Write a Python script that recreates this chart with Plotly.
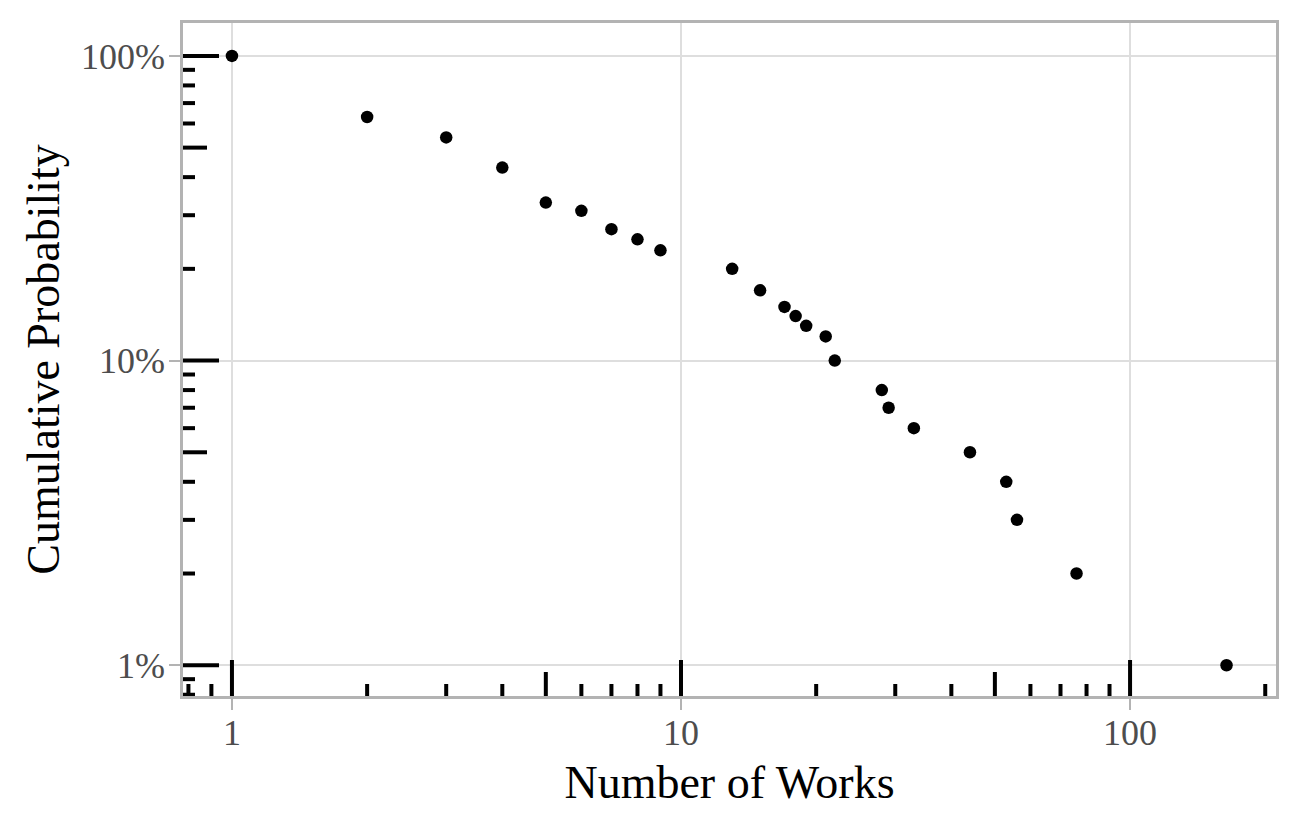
import numpy as np
import plotly.graph_objects as go

# Data
works = [1, 2, 3, 4, 5, 6, 7, 8, 9, 13, 15, 17, 18, 19, 21, 22, 28, 29, 33, 44, 53, 56, 76, 164]
cum_prob = [1.00, 0.63, 0.54, 0.43, 0.33, 0.31, 0.27, 0.25, 0.23, 0.20, 0.17, 0.15, 0.14, 0.13,
            0.12, 0.10, 0.08, 0.07, 0.06, 0.05, 0.04, 0.03, 0.02, 0.01]

x_tickvals = [1, 10, 100]
x_ticktext = ["1", "10", "100"]
y_tickvals = [0.01, 0.1, 1.0]
y_ticktext = ["1%", "10%", "100%"]

x_range_log = [-0.109, 2.325]
y_range_log = [-2.101, 0.108]

FONT = "Liberation Serif"

fig = go.Figure()
fig.add_trace(go.Scatter(
    x=works, y=cum_prob, mode="markers",
    marker=dict(color="black", size=12.5, line=dict(width=0)),
    showlegend=False, hoverinfo="x+y",
))

# log ticks (annotation_logticks style) on bottom and left
def logtick_values(lo, hi):
    vals = []
    for d in range(int(np.floor(lo)) - 1, int(np.ceil(hi)) + 1):
        for m in range(1, 10):
            v = m * 10.0 ** d
            if lo <= np.log10(v) <= hi:
                vals.append((v, m))
    return vals

tick_len = {1: 36, 5: 24}
short_len = 12
shapes = []
for v, m in logtick_values(*x_range_log):
    L = tick_len.get(m, short_len)
    shapes.append(dict(type="line", xref="x", yref="paper", x0=v, x1=v,
                       ysizemode="pixel", yanchor=0, y0=0, y1=L,
                       line=dict(color="black", width=4), layer="above"))
for v, m in logtick_values(*y_range_log):
    L = tick_len.get(m, short_len)
    shapes.append(dict(type="line", yref="y", xref="paper", y0=v, y1=v,
                       xsizemode="pixel", xanchor=0, x0=0, x1=L,
                       line=dict(color="black", width=4), layer="above"))

fig.update_layout(
    width=1283, height=810,
    margin=dict(l=175, r=15, t=12, b=122),
    paper_bgcolor="white", plot_bgcolor="white",
    font=dict(family=FONT, color="black"),
    shapes=shapes,
    xaxis=dict(
        type="log", range=x_range_log,
        tickvals=x_tickvals, ticktext=x_ticktext,
        tickfont=dict(size=36, color="#4D4D4D", family=FONT),
        ticks="outside", ticklen=11, tickwidth=2, tickcolor="#B3B3B3",
        ticklabelstandoff=-8,
        showgrid=True, gridcolor="#DEDEDE", gridwidth=2,
        showline=True, linecolor="#B3B3B3", linewidth=2.5, mirror=True,
        zeroline=False,
        title=dict(text="Number of Works", font=dict(size=46, family=FONT, color="black"), standoff=14),
    ),
    yaxis=dict(
        type="log", range=y_range_log,
        tickvals=y_tickvals, ticktext=y_ticktext,
        tickfont=dict(size=36, color="#4D4D4D", family=FONT),
        ticks="outside", ticklen=11, tickwidth=2, tickcolor="#B3B3B3",
        ticklabelstandoff=-3,
        showgrid=True, gridcolor="#DEDEDE", gridwidth=2,
        showline=True, linecolor="#B3B3B3", linewidth=2.5, mirror=True,
        zeroline=False,
        title=dict(text="Cumulative Probability", font=dict(size=46, family=FONT, color="black"), standoff=7),
    ),
)

fig.write_html("out.html")
